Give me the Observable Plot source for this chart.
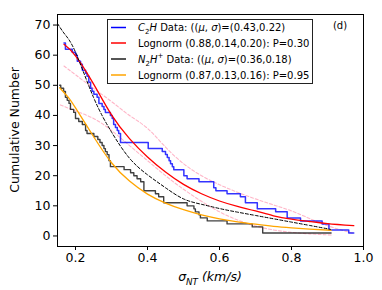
<!DOCTYPE html>
<html>
<head>
<meta charset="utf-8">
<script src="https://cdn.jsdelivr.net/npm/d3@7"></script>
<script src="https://cdn.jsdelivr.net/npm/@observablehq/plot@0.6"></script>
<style>
  html, body { margin: 0; padding: 0; background: white; }
  #chart svg { display: block; }
</style>
</head>
<body>
<div id="chart"></div>
<script>
// ---- data ----
const c2hX = [0.168,0.172,0.191,0.2,0.205,0.214,0.219,0.228,0.232,0.237,0.242,0.246,0.251,0.26,0.265,0.274,0.279,0.283,0.297,0.302,0.306,0.311,0.316,0.32,0.325,0.402,0.441,0.45,0.455,0.46,0.464,0.469,0.473,0.501,0.51,0.543,0.584,0.59,0.621,0.658,0.672,0.705,0.756,0.788,0.825,0.885,0.904,0.959,0.973];
const c2hN = [64,62,61,60,58,57,55,54,53,51,49,48,47,46,44,43,42,41,40,39,37,36,35,34,31,29,28,27,26,25,24,23,22,20,19,18,16,15,14,13,11,9,8,6,5,4,2,1,1];

const n2hX = [0.156,0.159,0.167,0.172,0.177,0.182,0.186,0.195,0.2,0.209,0.219,0.228,0.232,0.251,0.262,0.268,0.274,0.279,0.283,0.288,0.293,0.297,0.335,0.353,0.362,0.371,0.381,0.39,0.422,0.431,0.445,0.51,0.529,0.533,0.543,0.547,0.566,0.621,0.691,0.72,0.91];
const n2hN = [50,49,48,46,45,44,42,41,39,38,37,35,34,33,32,31,30,29,28,27,25,23,22,21,20,19,18,15,14,13,11,10,9,8,7,6,5,4,3,1,1];

const redX = [0.168,0.2,0.25,0.3,0.35,0.4,0.45,0.5,0.55,0.6,0.65,0.7,0.75,0.8,0.85,0.9,0.973];
const redY = [63.6,59.8,50.5,40.2,32.3,26.2,21.2,17.1,14.0,11.6,9.8,8.3,6.7,5.6,4.8,4.1,3.4];

const orangeX = [0.156,0.18,0.2,0.25,0.3,0.35,0.4,0.45,0.5,0.55,0.6,0.65,0.7,0.75,0.8,0.85,0.91];
const orangeY = [49.2,46,42.5,33,24.3,18.2,13.9,10.9,8.7,7.0,5.7,4.7,3.9,3.2,2.7,2.3,1.9];

const dashX = [0.15,0.17,0.2,0.25,0.3,0.35,0.4,0.45,0.5,0.55,0.6,0.65,0.7,0.75,0.8,0.85,0.908];
const dashY = [70.5,67,61,46,34.5,25.8,20.3,16,12.3,10.5,9.1,7.9,6.8,5.7,4.6,3.5,2.2];

const pinkUpX = [0.168,0.2,0.25,0.3,0.35,0.4,0.45,0.5,0.55,0.6,0.65,0.7,0.75,0.8,0.85,0.9,0.95,0.973];
const pinkUpY = [56.4,53.5,49,44.6,40,35.7,29.5,24,20,17,14.5,12.3,10.3,8.3,5.8,3.4,1.6,0.9];

const pinkLoX = [0.158,0.2,0.25,0.3,0.35,0.4,0.45,0.5,0.55,0.6,0.65,0.7,0.75,0.8,0.85,0.91];
const pinkLoY = [43.5,41.5,39,35,30,25,20,15.5,11.5,8,5.3,3.3,2,1.2,0.7,0.3];

const xTicks = [0.2,0.4,0.6,0.8,1.0];
const yTicks = [0,10,20,30,40,50,60,70];

const legendLabels = [
  [["C","i"],["2","sub"],["H","i"],[" Data: ((",""],["μ","i"],[", ",""],["σ","i"],[")=(0.43,0.22)",""]],
  [["Lognorm (0.88,0.14,0.20): P=0.30",""]],
  [["N","i"],["2","sub"],["H","i"],["+","sup"],[" Data: ((",""],["μ","i"],[", ",""],["σ","i"],[")=(0.36,0.18)",""]],
  [["Lognorm (0.87,0.13,0.16): P=0.95",""]]
];
const legendColors = ["blue","red","#555","orange"];
const panelLabel = "(d)";
const yLabel = "Cumulative Number";

// ---- build tables ----
const zip = (xs, ys) => xs.map((x, i) => ({x, y: ys[i]}));
const c2h = zip(c2hX, c2hN), n2h = zip(n2hX, n2hN);
const red = zip(redX, redY), orange = zip(orangeX, orangeY), dash = zip(dashX, dashY);
const pinkUp = zip(pinkUpX, pinkUpY), pinkLo = zip(pinkLoX, pinkLoY);

const chart = Plot.plot({
  width: 382, height: 290,
  marginLeft: 57, marginRight: 19, marginTop: 14, marginBottom: 44,
  style: {fontFamily: "DejaVu Sans", fontSize: "12.5px", background: "white", color: "black"},
  x: {domain: [0.15, 1.0], ticks: xTicks, tickFormat: d3.format(".1f"), label: null, tickSize: 4, tickPadding: 3},
  y: {domain: [-3.5, 73.5], ticks: yTicks, label: null, tickSize: 4, tickPadding: 3},
  marks: [
    Plot.line(pinkUp, {x: "x", y: "y", stroke: "#ffb6c8", strokeWidth: 1.1, strokeDasharray: "3,2", curve: "natural"}),
    Plot.line(pinkLo, {x: "x", y: "y", stroke: "#ffb6c8", strokeWidth: 1.1, strokeDasharray: "3,2", curve: "natural"}),
    Plot.line(c2h, {x: "x", y: "y", stroke: "blue", strokeWidth: 1.5, strokeOpacity: 0.8, curve: "step-after"}),
    Plot.line(red, {x: "x", y: "y", stroke: "red", strokeWidth: 1.3, curve: "natural"}),
    Plot.line(n2h, {x: "x", y: "y", stroke: "black", strokeWidth: 1.4, strokeOpacity: 0.75, curve: "step-after"}),
    Plot.line(orange, {x: "x", y: "y", stroke: "orange", strokeWidth: 1.3, curve: "natural"}),
    Plot.line(dash, {x: "x", y: "y", stroke: "black", strokeWidth: 1, strokeDasharray: "3,2", curve: "natural"}),
    Plot.frame({stroke: "black", strokeWidth: 1})
  ]
});

document.getElementById("chart").appendChild(chart);

// ---- annotations: legend, axis labels, panel label ----
const svg = d3.select(chart);

function addRich(sel, segs, fs) {
  segs.forEach(([t, s]) => {
    const ts = sel.append("tspan").text(t);
    if (s === "i") ts.attr("font-style", "italic");
    if (s === "sub") ts.attr("font-size", fs * 0.7).attr("dy", fs * 0.3);
    if (s === "sup") ts.attr("font-size", fs * 0.7).attr("dy", -fs * 0.45);
    if (s === "sub" || s === "sup") ts.attr("data-reset", s === "sub" ? -fs * 0.3 : fs * 0.45);
  });
  const spans = sel.selectAll("tspan").nodes();
  spans.forEach((n, i) => {
    const r = n.getAttribute("data-reset");
    if (r !== null && spans[i + 1]) {
      const prev = +(spans[i + 1].getAttribute("dy") || 0);
      spans[i + 1].setAttribute("dy", prev + (+r));
    }
  });
}

const fsL = 10;
const leg = svg.append("g").attr("font-family", "DejaVu Sans").attr("font-size", fsL).attr("text-anchor", "start");
leg.append("rect").attr("x", 107.5).attr("y", 19.5).attr("width", 205).attr("height", 64)
  .attr("fill", "white").attr("stroke", "#222").attr("stroke-width", 1);
const rowY = [27.5, 43, 59, 75];
legendLabels.forEach((segs, i) => {
  leg.append("line").attr("x1", 111).attr("x2", 126).attr("y1", rowY[i]).attr("y2", rowY[i])
    .attr("stroke", legendColors[i]).attr("stroke-width", i === 2 ? 2 : 1.5);
  const t = leg.append("text").attr("x", 138).attr("y", rowY[i] + 3.5).attr("fill", "black").attr("text-anchor", "start");
  addRich(t, segs, fsL);
});

svg.append("text").attr("x", 340).attr("y", 29).attr("text-anchor", "middle")
  .attr("font-family", "DejaVu Sans").attr("font-size", 10).text(panelLabel);

svg.append("text").attr("transform", "translate(19,130) rotate(-90)").attr("text-anchor", "middle")
  .attr("font-family", "DejaVu Sans").attr("font-size", 12.5).text(yLabel);

const xl = svg.append("text").attr("x", 210).attr("y", 281).attr("text-anchor", "middle")
  .attr("font-family", "DejaVu Sans").attr("font-size", 12.5).attr("font-style", "italic");
addRich(xl, [["σ","i"],["NT","sub"],[" (km/s)","i"]], 12.5);
xl.selectAll("tspan").attr("font-style", "italic");
</script>
</body>
</html>
